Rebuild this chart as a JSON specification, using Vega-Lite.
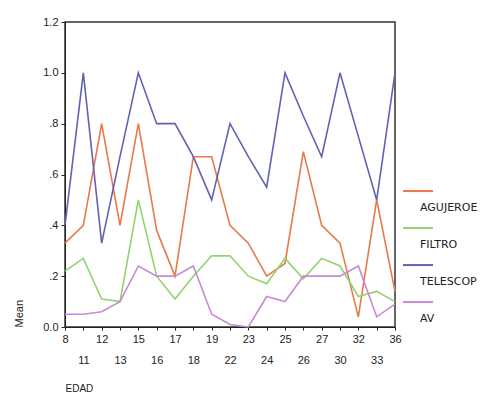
{
  "$schema": "https://vega.github.io/schema/vega-lite/v6.json",
  "width": 330,
  "height": 305,
  "autosize": {"type": "none"},
  "padding": {"left": 65, "top": 22, "right": 102, "bottom": 80},
  "background": "white",
  "config": {
    "view": {"stroke": "#333333", "strokeWidth": 1.5},
    "font": "Liberation Sans",
    "axis": {"labelColor": "#222222", "titleColor": "#222222", "domainColor": "#222222", "tickColor": "#222222", "labelFontSize": 11, "grid": false}
  },
  "data": {
    "values": [
      {"EDAD": 8, "Serie": "AGUJEROE", "Mean": 0.33},
      {"EDAD": 11, "Serie": "AGUJEROE", "Mean": 0.4},
      {"EDAD": 12, "Serie": "AGUJEROE", "Mean": 0.8},
      {"EDAD": 13, "Serie": "AGUJEROE", "Mean": 0.4},
      {"EDAD": 15, "Serie": "AGUJEROE", "Mean": 0.8},
      {"EDAD": 16, "Serie": "AGUJEROE", "Mean": 0.38},
      {"EDAD": 17, "Serie": "AGUJEROE", "Mean": 0.2},
      {"EDAD": 18, "Serie": "AGUJEROE", "Mean": 0.67},
      {"EDAD": 19, "Serie": "AGUJEROE", "Mean": 0.67},
      {"EDAD": 22, "Serie": "AGUJEROE", "Mean": 0.4},
      {"EDAD": 23, "Serie": "AGUJEROE", "Mean": 0.33},
      {"EDAD": 24, "Serie": "AGUJEROE", "Mean": 0.2},
      {"EDAD": 25, "Serie": "AGUJEROE", "Mean": 0.25},
      {"EDAD": 26, "Serie": "AGUJEROE", "Mean": 0.69},
      {"EDAD": 27, "Serie": "AGUJEROE", "Mean": 0.4},
      {"EDAD": 30, "Serie": "AGUJEROE", "Mean": 0.33},
      {"EDAD": 32, "Serie": "AGUJEROE", "Mean": 0.04},
      {"EDAD": 33, "Serie": "AGUJEROE", "Mean": 0.5},
      {"EDAD": 36, "Serie": "AGUJEROE", "Mean": 0.14},
      {"EDAD": 8, "Serie": "FILTRO", "Mean": 0.22},
      {"EDAD": 11, "Serie": "FILTRO", "Mean": 0.27},
      {"EDAD": 12, "Serie": "FILTRO", "Mean": 0.11},
      {"EDAD": 13, "Serie": "FILTRO", "Mean": 0.1},
      {"EDAD": 15, "Serie": "FILTRO", "Mean": 0.5},
      {"EDAD": 16, "Serie": "FILTRO", "Mean": 0.2},
      {"EDAD": 17, "Serie": "FILTRO", "Mean": 0.11},
      {"EDAD": 18, "Serie": "FILTRO", "Mean": 0.2},
      {"EDAD": 19, "Serie": "FILTRO", "Mean": 0.28},
      {"EDAD": 22, "Serie": "FILTRO", "Mean": 0.28},
      {"EDAD": 23, "Serie": "FILTRO", "Mean": 0.2},
      {"EDAD": 24, "Serie": "FILTRO", "Mean": 0.17},
      {"EDAD": 25, "Serie": "FILTRO", "Mean": 0.27},
      {"EDAD": 26, "Serie": "FILTRO", "Mean": 0.19},
      {"EDAD": 27, "Serie": "FILTRO", "Mean": 0.27},
      {"EDAD": 30, "Serie": "FILTRO", "Mean": 0.24},
      {"EDAD": 32, "Serie": "FILTRO", "Mean": 0.12},
      {"EDAD": 33, "Serie": "FILTRO", "Mean": 0.14},
      {"EDAD": 36, "Serie": "FILTRO", "Mean": 0.1},
      {"EDAD": 8, "Serie": "TELESCOP", "Mean": 0.4},
      {"EDAD": 11, "Serie": "TELESCOP", "Mean": 1.0},
      {"EDAD": 12, "Serie": "TELESCOP", "Mean": 0.33},
      {"EDAD": 13, "Serie": "TELESCOP", "Mean": 0.67},
      {"EDAD": 15, "Serie": "TELESCOP", "Mean": 1.0},
      {"EDAD": 16, "Serie": "TELESCOP", "Mean": 0.8},
      {"EDAD": 17, "Serie": "TELESCOP", "Mean": 0.8},
      {"EDAD": 18, "Serie": "TELESCOP", "Mean": 0.67},
      {"EDAD": 19, "Serie": "TELESCOP", "Mean": 0.5},
      {"EDAD": 22, "Serie": "TELESCOP", "Mean": 0.8},
      {"EDAD": 23, "Serie": "TELESCOP", "Mean": 0.67},
      {"EDAD": 24, "Serie": "TELESCOP", "Mean": 0.55},
      {"EDAD": 25, "Serie": "TELESCOP", "Mean": 1.0},
      {"EDAD": 26, "Serie": "TELESCOP", "Mean": 0.83},
      {"EDAD": 27, "Serie": "TELESCOP", "Mean": 0.67},
      {"EDAD": 30, "Serie": "TELESCOP", "Mean": 1.0},
      {"EDAD": 32, "Serie": "TELESCOP", "Mean": 0.75},
      {"EDAD": 33, "Serie": "TELESCOP", "Mean": 0.5},
      {"EDAD": 36, "Serie": "TELESCOP", "Mean": 1.0},
      {"EDAD": 8, "Serie": "AV", "Mean": 0.05},
      {"EDAD": 11, "Serie": "AV", "Mean": 0.05},
      {"EDAD": 12, "Serie": "AV", "Mean": 0.06},
      {"EDAD": 13, "Serie": "AV", "Mean": 0.1},
      {"EDAD": 15, "Serie": "AV", "Mean": 0.24},
      {"EDAD": 16, "Serie": "AV", "Mean": 0.2},
      {"EDAD": 17, "Serie": "AV", "Mean": 0.2},
      {"EDAD": 18, "Serie": "AV", "Mean": 0.24},
      {"EDAD": 19, "Serie": "AV", "Mean": 0.05},
      {"EDAD": 22, "Serie": "AV", "Mean": 0.01},
      {"EDAD": 23, "Serie": "AV", "Mean": 0.0},
      {"EDAD": 24, "Serie": "AV", "Mean": 0.12},
      {"EDAD": 25, "Serie": "AV", "Mean": 0.1},
      {"EDAD": 26, "Serie": "AV", "Mean": 0.2},
      {"EDAD": 27, "Serie": "AV", "Mean": 0.2},
      {"EDAD": 30, "Serie": "AV", "Mean": 0.2},
      {"EDAD": 32, "Serie": "AV", "Mean": 0.24},
      {"EDAD": 33, "Serie": "AV", "Mean": 0.04},
      {"EDAD": 36, "Serie": "AV", "Mean": 0.09}
    ]
  },
  "mark": {"type": "line", "strokeWidth": 1.6},
  "encoding": {
    "x": {
      "field": "EDAD",
      "type": "ordinal",
      "scale": {"type": "point", "padding": 0},
      "axis": {
        "title": "EDAD",
        "titleAnchor": "start",
        "titleAlign": "left",
        "titleFontWeight": "normal",
        "titleFontSize": 10,
        "titlePadding": 18,
        "labelAngle": 0,
        "labelOverlap": false,
        "labelFlush": false,
        "labelBaseline": "top",
        "labelLineHeight": 21,
        "labelExpr": "indexof([11,13,16,18,22,24,26,30,33], datum.value) >= 0 ? ['', datum.label] : datum.label",
        "tickSize": 3,
        "labelPadding": 3
      }
    },
    "y": {
      "field": "Mean",
      "type": "quantitative",
      "scale": {"domain": [0, 1.2]},
      "axis": {
        "title": "Mean",
        "titleAnchor": "start",
        "titleFontWeight": "normal",
        "titleFontSize": 11,
        "titlePadding": 18,
        "values": [0, 0.2, 0.4, 0.6, 0.8, 1.0, 1.2],
        "labelExpr": "datum.value == 0 ? '0.0' : (datum.value >= 1 ? format(datum.value, '.1f') : replace(format(datum.value, '.1f'), '0.', '.'))",
        "tickSize": 4,
        "labelPadding": 3
      }
    },
    "color": {
      "field": "Serie",
      "type": "nominal",
      "scale": {"domain": ["AGUJEROE", "FILTRO", "TELESCOP", "AV"], "range": ["#E8794A", "#8FD46E", "#6262B4", "#C88AD4"]},
      "legend": {
        "orient": "none",
        "legendX": 337,
        "legendY": 170,
        "title": null,
        "padding": 0,
        "symbolType": "M-1,-1.13L1,-1.13",
        "symbolSize": 900,
        "symbolStrokeWidth": 2,
        "labelOffset": -14,
        "labelBaseline": "middle",
        "labelFont": "DejaVu Sans",
        "labelFontSize": 11,
        "labelColor": "#222222",
        "labelLimit": 300,
        "rowPadding": 11
      }
    }
  }
}
